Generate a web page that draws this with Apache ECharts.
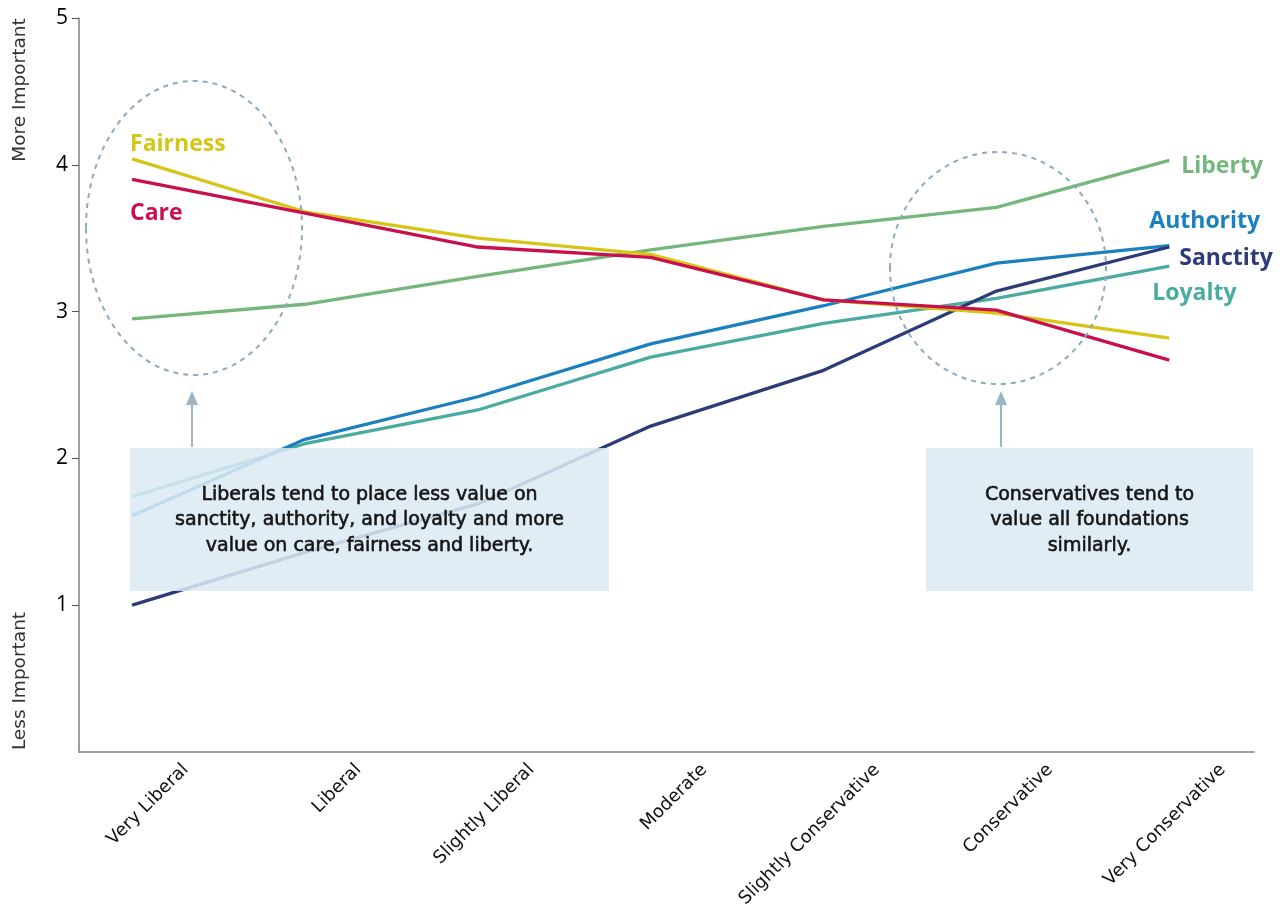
<!DOCTYPE html>
<html><head><meta charset="utf-8">
<script src="https://cdn.jsdelivr.net/npm/echarts@6/dist/echarts.min.js"></script>
<style>html,body{margin:0;padding:0;background:#fff}#c{width:1288px;height:915px}</style>
</head><body><div id="c"></div>
<script>
const categories = ['Very Liberal','Liberal','Slightly Liberal','Moderate','Slightly Conservative','Conservative','Very Conservative'];
const fairness  = [4.04, 3.68, 3.50, 3.39, 3.08, 2.99, 2.82];
const care      = [3.90, 3.67, 3.44, 3.37, 3.08, 3.01, 2.67];
const liberty   = [2.95, 3.05, 3.24, 3.42, 3.58, 3.71, 4.03];
const authority = [1.61, 2.13, 2.42, 2.78, 3.04, 3.33, 3.45];
const loyalty   = [1.74, 2.10, 2.33, 2.69, 2.92, 3.09, 3.31];
const sanctity  = [1.00, 1.36, 1.69, 2.22, 2.60, 3.14, 3.44];
const yTicks = [1, 2, 3, 4, 5];
const FONT = 'Open Sans';
const WIDE = 'DejaVu Sans';

const chart = echarts.init(document.getElementById('c'));
function mk(name, vals, color, endLabel) {
  const s = {
    name, type: 'line', data: vals.map((v, i) => [i, v]),
    symbol: 'none', smooth: false, z: 2,
    lineStyle: { color, width: 3.3 }, itemStyle: { color }
  };
  if (endLabel) {
    s.endLabel = { show: true, formatter: name, color, fontFamily: FONT, fontWeight: 'bold', fontSize: 23, offset: endLabel };
  }
  return s;
}
const series = [
  mk('Liberty', liberty, '#74b67b', [4, 6]),
  mk('Loyalty', loyalty, '#4aaba0', [-25, 27]),
  mk('Authority', authority, '#1a80c0', [-28, -24]),
  mk('Sanctity', sanctity, '#2d3c78', [2, 11]),
  mk('Fairness', fairness, '#d6c516'),
  mk('Care', care, '#c8104f')
];
const option = {
  animation: false,
  backgroundColor: '#fff',
  grid: { left: 79, right: 34, top: 18, bottom: 163, containLabel: false },
  xAxis: {
    type: 'value', min: -0.307, max: 6.49,
    axisLine: { show: true, onZero: false, lineStyle: { color: '#808080', width: 1.5 } },
    axisTick: { show: false },
    splitLine: { show: false },
    axisLabel: {
      customValues: categories.map((c, i) => i + 0.31),
      formatter: v => categories[Math.round(v - 0.31)],
      rotate: 45, margin: 15, color: '#111', fontFamily: WIDE, fontSize: 18
    }
  },
  yAxis: {
    type: 'value', min: 0, max: 5,
    axisLine: { show: true, onZero: false, lineStyle: { color: '#808080', width: 1.5 } },
    axisTick: { show: true, customValues: yTicks, length: 7, lineStyle: { color: '#555', width: 1 } },
    splitLine: { show: false },
    axisLabel: { customValues: yTicks, margin: 11, color: '#000', fontFamily: FONT, fontSize: 21, fontWeight: 500, padding: [6, 0, 0, 0] }
  },
  series
};
chart.setOption(option);

const fp = chart.convertToPixel({ gridIndex: 0 }, [0, fairness[0]]);
const cp = chart.convertToPixel({ gridIndex: 0 }, [0, care[0]]);
const boxFill = 'rgba(220,234,243,0.86)';
const dash = { stroke: '#8eaabd', lineWidth: 2, lineDash: [5, 5], fill: 'none' };
const arrowCol = '#9ab7ca';
const txtStyle = { fontFamily: WIDE, fontSize: 19, fontWeight: 'normal', fill: '#151515', align: 'center', verticalAlign: 'middle', lineHeight: 25.5, textStrokeWidth: 0.6, stroke: '#151515' };
chart.setOption({
  graphic: [
    { type: 'text', x: 20, y: 90, rotation: Math.PI / 2, style: { text: 'More Important', fontFamily: WIDE, fontSize: 18.5, fill: '#333', align: 'center', verticalAlign: 'middle' }, z: 10 },
    { type: 'text', x: 20, y: 681, rotation: Math.PI / 2, style: { text: 'Less Important', fontFamily: WIDE, fontSize: 18.5, fill: '#333', align: 'center', verticalAlign: 'middle' }, z: 10 },
    { type: 'text', x: fp[0] - 2, y: fp[1] - 14, style: { text: 'Fairness', fontFamily: FONT, fontSize: 23, fontWeight: 'bold', fill: '#d6c516', verticalAlign: 'middle' }, z: 10 },
    { type: 'text', x: cp[0] - 2, y: cp[1] + 34, style: { text: 'Care', fontFamily: FONT, fontSize: 23, fontWeight: 'bold', fill: '#c8104f', verticalAlign: 'middle' }, z: 10 },
    { type: 'ellipse', shape: { cx: 194, cy: 228, rx: 108, ry: 147 }, style: dash, z: 5 },
    { type: 'ellipse', shape: { cx: 998, cy: 268, rx: 108, ry: 116 }, style: dash, z: 5 },
    { type: 'rect', shape: { x: 130, y: 448, width: 479, height: 143 }, style: { fill: boxFill }, z: 20 },
    { type: 'rect', shape: { x: 926, y: 448, width: 327, height: 143 }, style: { fill: boxFill }, z: 20 },
    { type: 'text', x: 369.5, y: 520.5, style: Object.assign({ text: 'Liberals tend to place less value on\nsanctity, authority, and loyalty and more\nvalue on care, fairness and liberty.' }, txtStyle), z: 21 },
    { type: 'text', x: 1089.5, y: 520.5, style: Object.assign({ text: 'Conservatives tend to\nvalue all foundations\nsimilarly.' }, txtStyle), z: 21 },
    { type: 'line', shape: { x1: 192, y1: 447, x2: 192, y2: 404 }, style: { stroke: arrowCol, lineWidth: 2 }, z: 6 },
    { type: 'polygon', shape: { points: [[192, 391], [186, 405], [198, 405]] }, style: { fill: arrowCol }, z: 6 },
    { type: 'line', shape: { x1: 1001, y1: 447, x2: 1001, y2: 404 }, style: { stroke: arrowCol, lineWidth: 2 }, z: 6 },
    { type: 'polygon', shape: { points: [[1001, 391], [995, 405], [1007, 405]] }, style: { fill: arrowCol }, z: 6 }
  ]
});
</script></body></html>
